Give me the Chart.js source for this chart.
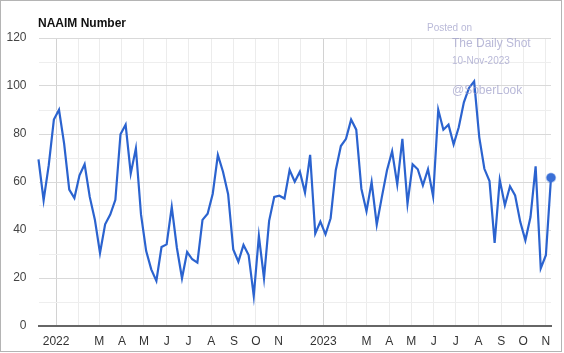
<!DOCTYPE html>
<html>
<head>
<meta charset="utf-8">
<script src="https://cdn.jsdelivr.net/npm/chart.js@4"></script>
<style>
  html, body { margin: 0; padding: 0; background: #fff; }
  #c { display: block; }
</style>
</head>
<body>
<canvas id="c" width="564" height="353"></canvas>
<script>
// Weekly NAAIM readings, first week 2021-12-08, last week 2023-11-08
const firstWeek = '2021-12-08';
const naaim = [
  69.4, 52.4, 67.0, 86.0, 90.1, 76.0, 56.8, 53.3, 62.8, 67.4,
  53.8, 44.3, 30.4, 42.4, 46.4, 52.6, 79.9, 83.9, 63.5, 74.0,
  46.5, 31.3, 23.6, 18.8, 32.9, 34.0, 49.6, 32.6, 19.9, 30.8,
  27.8, 26.4, 44.2, 46.8, 55.1, 71.3, 64.3, 54.9, 31.9, 26.8,
  33.8, 29.6, 12.5, 37.5, 19.9, 43.8, 53.8, 54.3, 53.1, 65.0,
  60.1, 64.3, 55.6, 71.3, 38.5, 43.5, 38.2, 44.9, 64.9, 75.0,
  78.0, 86.0, 81.8, 57.2, 47.8, 60.0, 42.2, 53.8, 64.9, 72.8,
  59.0, 78.0, 51.0, 67.4, 65.3, 58.6, 65.3, 54.0, 90.1, 81.8,
  83.9, 75.7, 82.8, 93.2, 99.2, 101.9, 78.7, 65.5, 60.4, 34.6,
  60.9, 50.3, 58.2, 54.4, 43.4, 35.7, 45.4, 66.5, 24.0, 29.5,
  61.8
];
// x-axis: month starts (days from 2022-01-01) and their labels
const monthStarts = [0, 31, 59, 90, 120, 151, 181, 212, 243, 273, 304, 334,
                     365, 396, 424, 455, 485, 516, 546, 577, 608, 638, 669];
const monthLabels = ['2022', '', 'M', 'A', 'M', 'J', 'J', 'A', 'S', 'O', 'N', '',
                     '2023', '', 'M', 'A', 'M', 'J', 'J', 'A', 'S', 'O', 'N'];
const yearTicks = [0, 365];
const yTickLabels = ['0', '20', '40', '60', '80', '100', '120'];

const DAY = 86400000;
const origin = Date.UTC(2022, 0, 1);
const start = (Date.parse(firstWeek + 'T00:00:00Z') - origin) / DAY;
const points = naaim.map((v, i) => ({ x: start + 7 * i, y: v }));
const lastIdx = naaim.length - 1;

const FONT = 'Arial, "Liberation Sans", sans-serif';

const decor = {
  id: 'decor',
  afterDraw(chart) {
    const ctx = chart.ctx;
    ctx.save();
    // frame
    ctx.strokeStyle = '#b4b4b4';
    ctx.lineWidth = 1;
    ctx.strokeRect(0.5, 0.5, 561, 351);
    // title
    ctx.fillStyle = '#111';
    ctx.font = 'bold 12px ' + FONT;
    ctx.textBaseline = 'alphabetic';
    ctx.textAlign = 'left';
    ctx.fillText('NAAIM Number', 38, 27);
    // watermark
    ctx.fillStyle = 'rgba(155,155,200,0.7)';
    ctx.font = '10px ' + FONT;
    ctx.fillText('Posted on', 427, 31);
    ctx.font = '12px ' + FONT;
    ctx.fillText('The Daily Shot', 452, 47);
    ctx.font = '10px ' + FONT;
    ctx.fillText('10-Nov-2023', 452, 64);
    ctx.font = '12px ' + FONT;
    ctx.fillText('@SoberLook', 452, 94);
    ctx.restore();
  }
};

new Chart(document.getElementById('c'), {
  type: 'line',
  data: {
    datasets: [{
      data: points,
      borderColor: '#2b63cf',
      backgroundColor: '#2b63cf',
      borderWidth: 2.2,
      tension: 0,
      clip: false,
      pointRadius: ctx => ctx.dataIndex === lastIdx ? 4.5 : 0,
      pointBorderWidth: ctx => ctx.dataIndex === lastIdx ? 1.5 : 0,
      pointBorderColor: 'rgba(58,111,214,0.35)',
      pointBackgroundColor: '#3a6fd6'
    }]
  },
  options: {
    responsive: false,
    animation: false,
    events: [],
    layout: { padding: { left: 0, right: 13, top: 38, bottom: 0 } },
    plugins: { legend: { display: false }, tooltip: { enabled: false } },
    scales: {
      x: {
        type: 'linear',
        min: start,
        max: start + 7 * lastIdx,
        afterBuildTicks: s => { s.ticks = monthStarts.map(v => ({ value: v })); },
        afterFit: s => { s.height = 27; },
        ticks: {
          autoSkip: false, maxRotation: 0, padding: 8,
          color: '#333', font: { family: FONT, size: 12 },
          callback: (v, i) => monthLabels[i]
        },
        grid: {
          drawTicks: false,
          color: c => (c.tick && yearTicks.includes(c.tick.value)) ? '#d2d2d2' : '#ececec',
          lineWidth: 1
        },
        border: { display: true, color: '#666', width: 2 }
      },
      y: {
        min: 0, max: 120,
        afterBuildTicks: s => {
          const t = [];
          for (let k = 0; k <= 12; k++) t.push({ value: k * 10 });
          s.ticks = t;
        },
        afterFit: s => { s.width = 38.5; },
        ticks: {
          autoSkip: false, padding: 12,
          color: '#444', font: { family: FONT, size: 12 },
          callback: v => (v % 20 === 0) ? yTickLabels[v / 20] : ''
        },
        grid: {
          drawTicks: false,
          color: c => (c.tick && c.tick.value % 20 === 0) ? '#d9d9d9' : '#eeeeee',
          lineWidth: 1
        },
        border: { display: false }
      }
    }
  },
  plugins: [decor]
});
</script>
</body>
</html>
